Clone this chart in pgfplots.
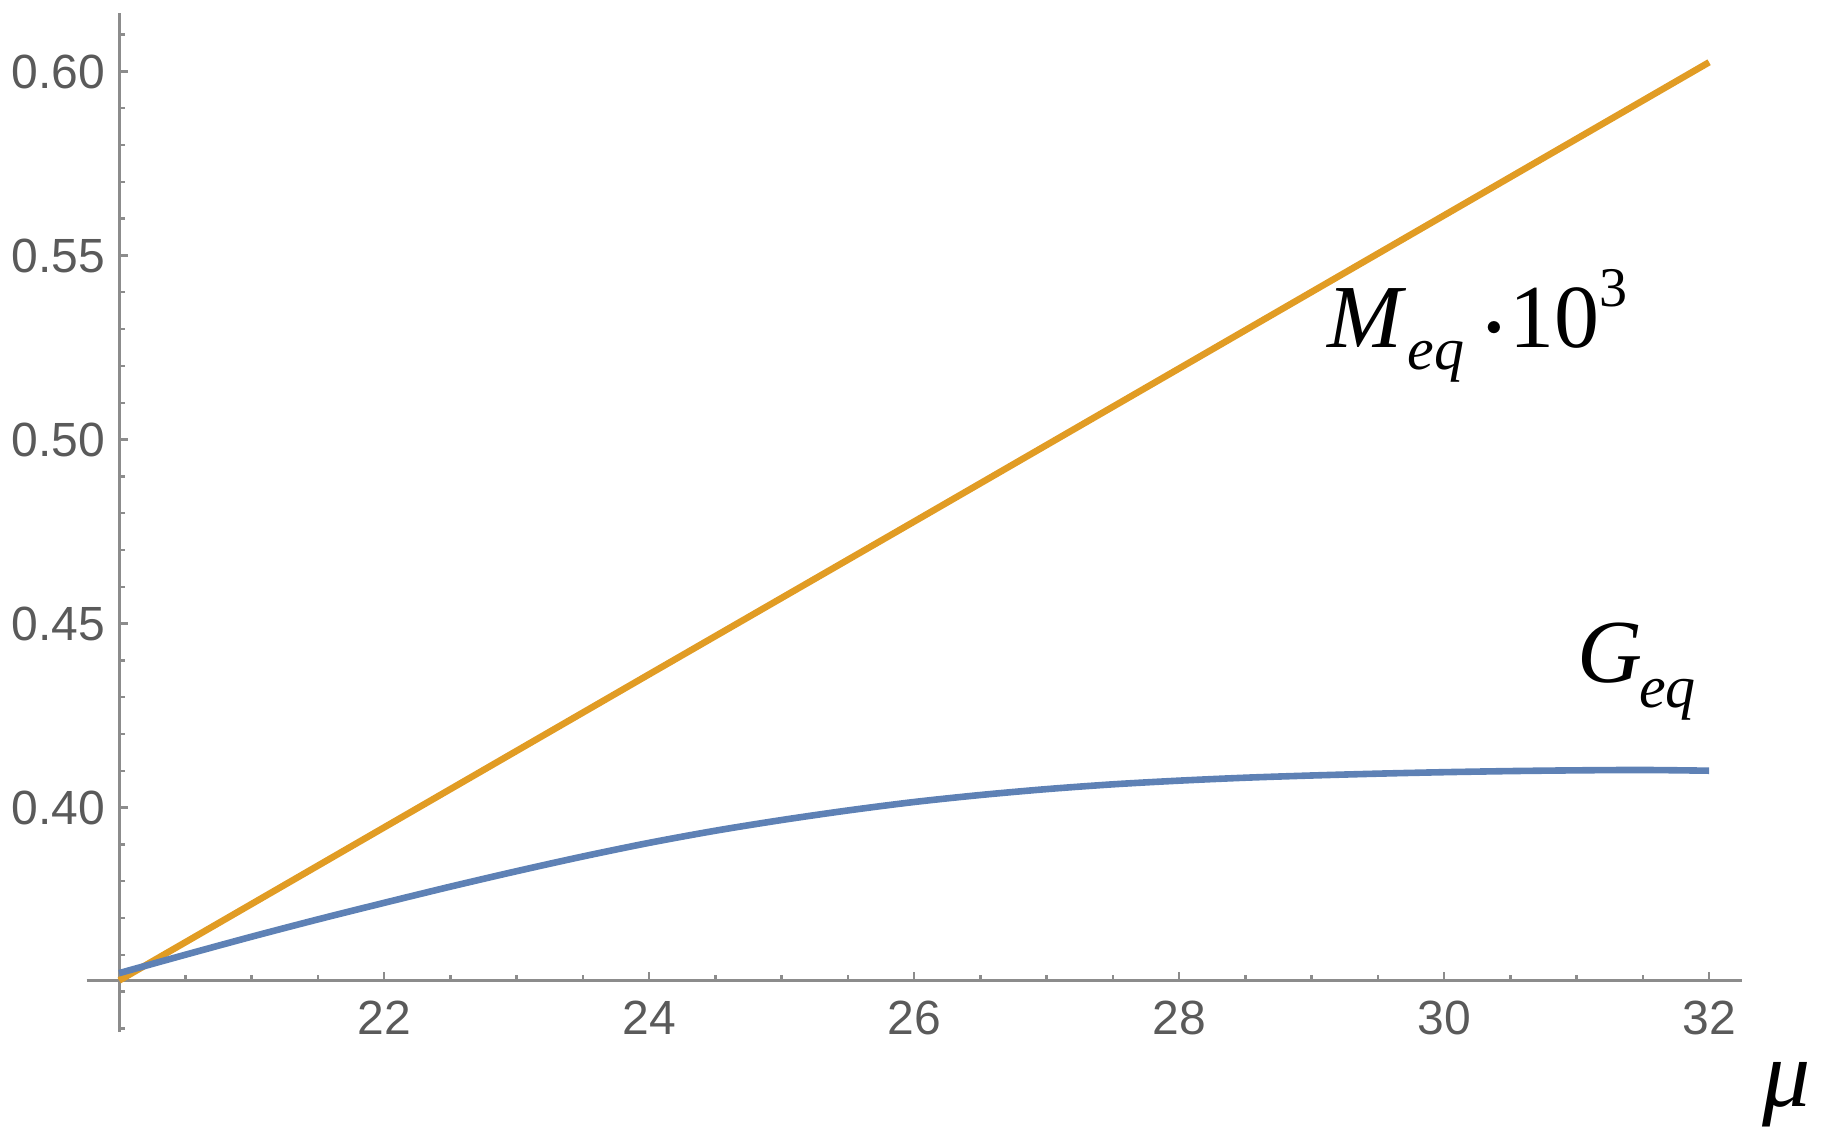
\documentclass[border=0pt]{standalone}
\usepackage{fontspec}
\setmainfont{Liberation Sans}
\newfontfamily\tms{Liberation Serif}
\usepackage{pgfplots}
\usepackage{pgfplotstable}
\pgfplotsset{compat=1.18}

\definecolor{mmablue}{RGB}{94,129,181}
\definecolor{mmaorange}{RGB}{225,156,36}
\definecolor{axgray}{RGB}{140,140,140}
\definecolor{lblgray}{RGB}{90,90,90}

% G_eq against mu
\pgfplotstableread{
mu    G
20    0.3550
20.5  0.3600
21    0.3649
21.5  0.3696
22    0.3741
22.5  0.3785
23    0.3827
23.5  0.3867
24    0.3904
24.5  0.3937
25    0.3966
25.5  0.3992
26    0.4015
26.5  0.4034
27    0.4050
27.5  0.4063
28    0.4073
28.5  0.4081
29    0.4087
29.5  0.4092
30    0.4096
30.5  0.4099
31    0.4101
31.5  0.4102
32    0.4100
}\geqdata

% M_eq*10^3 against mu
\pgfplotstableread{
mu    M
20    0.3530
22    0.3946
24    0.4362
26    0.4777
28    0.5193
30    0.5609
32    0.6025
}\meqdata

\begin{document}
\begin{tikzpicture}
\useasboundingbox (-21.65pt,-26.25pt) rectangle (435.85pt,258pt);
\begin{axis}[
    at={(0,0)}, anchor=south west,
    scale only axis,
    width=413.9pt, height=254.85pt,
    axis lines=middle,
    axis line style={-, axgray, line width=0.75pt},
    xmin=-0.246, xmax=12.25,
    ymin=-0.0139, ymax=0.2631,
    xtick={2,4,...,12},
    xticklabels={22,24,26,28,30,32},
    minor xtick={0.5,1,...,12},
    ytick={0.0471,0.0971,0.1471,0.1971,0.2471},
    yticklabels={0.40,0.45,0.50,0.55,0.60},
    minor ytick={-0.0129,-0.0029,...,0.2571},
    tick align=inside,
    major tick length=2.1pt,
    minor tick length=1.4pt,
    every tick/.style={axgray, line width=0.6pt},
    tick label style={font=\fontsize{12}{14}\selectfont, text=lblgray},
    xticklabel style={yshift=-1.5pt},
    clip=false,
]
\addplot[mmaorange, line width=1.65pt] table[x expr=\thisrow{mu}-20, y expr=\thisrow{M}-0.3529] {\meqdata};
\addplot[mmablue, line width=1.65pt, smooth] table[x expr=\thisrow{mu}-20, y expr=\thisrow{G}-0.3529] {\geqdata};

\node[anchor=base west, inner sep=0pt] at (axis cs:9.112,0.1720)
  {\tms\fontsize{22.5}{24}\selectfont\textit{M}\kern0.3pt\raisebox{-5.5pt}{\fontsize{15}{15}\selectfont\textit{eq}}\kern5.5pt\raisebox{3pt}{\scalebox{0.38}{$\bullet$}}\kern2pt 10\raisebox{10.25pt}{\fontsize{14}{14}\selectfont 3}};
\node[anchor=base west, inner sep=0pt] at (axis cs:11.0,0.0810)
  {\tms\fontsize{22.5}{24}\selectfont\textit{G}\kern-0.8pt\raisebox{-6.25pt}{\fontsize{15}{15}\selectfont\textit{eq}}};
\node[anchor=base west, inner sep=0pt] at (axis cs:12.396,-0.03416)
  {\tms\fontsize{24}{26}\selectfont\textit{μ}};
\end{axis}
\end{tikzpicture}
\end{document}
